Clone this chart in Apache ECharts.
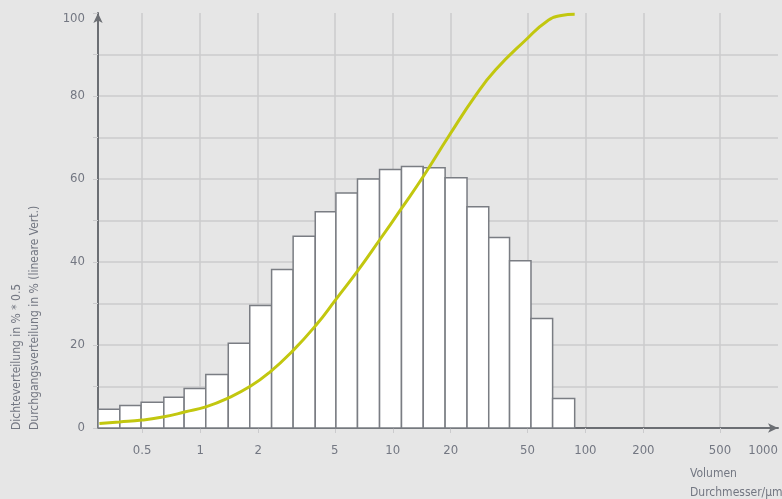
<!DOCTYPE html>
<html>
<head>
<meta charset="utf-8">
<script src="https://cdn.jsdelivr.net/npm/echarts@6/dist/echarts.min.js"></script>
<style>
html,body{margin:0;padding:0;background:#e6e6e6;}
#chart{width:782px;height:499px;}
</style>
</head>
<body>
<div id="chart"></div>
<script>
// ---- data ----
const binEdges = [0.295, 0.383, 0.494, 0.648, 0.826, 1.07, 1.40, 1.81, 2.35, 3.04, 3.96, 5.07, 6.56, 8.54, 11.1, 14.4, 18.7, 24.3, 31.5, 40.4, 52.2, 67.6, 88.0];
const densityValues = [4.5, 5.4, 6.2, 7.4, 9.5, 12.9, 20.4, 29.5, 38.2, 46.2, 52.1, 56.6, 60.0, 62.3, 63.0, 62.7, 60.3, 53.3, 45.9, 40.3, 26.4, 7.1];
const curveX = [0.30, 0.38, 0.5, 0.65, 0.84, 1.07, 1.41, 1.83, 2.28, 3.0, 4.0, 5.07, 6.56, 8.54, 11.1, 14.4, 19.7, 27, 34.2, 49, 62.7, 75, 88];
const curveY = [1.1, 1.45, 1.9, 2.7, 3.9, 5.1, 7.3, 10.1, 13.3, 18.4, 24.8, 31.0, 37.8, 45.3, 52.9, 60.6, 70.6, 80.2, 86.3, 93.5, 97.9, 99.4, 99.7];
const xTickValues = [0.5, 1, 2, 5, 10, 20, 50, 100, 200, 500];
const xLabelValues = [0.5, 1, 2, 5, 10, 20, 50, 100, 200, 500, 1000];
const yTickLabels = [0, 20, 40, 60, 80, 100];
const yAxisNames = ['Dichteverteilung in % * 0.5', 'Durchgangsverteilung in % (lineare Vert.)'];
const xAxisNames = ['Volumen', 'Durchmesser/µm'];

const FONT = "'Liberation Sans Narrow', 'DejaVu Sans Condensed', 'Noto Sans', sans-serif";
const GRID = '#cbcbcd';
const AXIS = '#6b6e73';
const TXT = '#737782';

const barData = densityValues.map((v, i) => [binEdges[i], binEdges[i + 1], v]);
const curveData = curveX.map((x, i) => [x, curveY[i]]);

const ySplitColors = [];
for (let v = 0; v <= 100; v += 10) ySplitColors.push(v === 100 ? 'rgba(0,0,0,0)' : GRID);

const chart = echarts.init(document.getElementById('chart'), null, {renderer: 'canvas'});
chart.setOption({
  backgroundColor: '#e6e6e6',
  animation: false,
  grid: {left: 98, right: 4, top: 13, bottom: 71, containLabel: false},
  xAxis: {
    type: 'log',
    logBase: 10,
    min: binEdges[0],
    max: 1000,
    axisLine: {show: true, onZero: false, lineStyle: {color: AXIS, width: 2}, symbol: ['none', 'arrow'], symbolSize: [7, 10]},
    axisTick: {show: true, customValues: xTickValues, length: 5, lineStyle: {color: GRID, width: 1}},
    axisLabel: {
      customValues: xLabelValues,
      color: TXT, fontFamily: FONT, fontSize: 13, margin: 16,
      alignMaxLabel: 'right',
      formatter: v => String(v)
    },
    splitLine: {show: true, lineStyle: {color: GRID, width: 1.5}},
    minorTick: {show: false},
    minorSplitLine: {show: false}
  },
  yAxis: {
    type: 'value',
    min: 0, max: 100, interval: 10,
    axisLine: {show: true, lineStyle: {color: AXIS, width: 2}, symbol: ['none', 'arrow'], symbolSize: [7, 10]},
    axisTick: {show: true, length: 5, lineStyle: {color: GRID, width: 1}},
    axisLabel: {
      color: TXT, fontFamily: FONT, fontSize: 13, margin: 13,
      formatter: v => (v === 100 ? '{top|100}' : (yTickLabels.indexOf(v) >= 0 ? String(v) : '')),
      rich: {top: {color: TXT, fontFamily: FONT, fontSize: 13, padding: [11, 0, 0, 0]}}
    },
    splitLine: {show: true, lineStyle: {color: ySplitColors, width: 1.5}}
  },
  graphic: [
    {type: 'text', x: 17, y: 430, rotation: Math.PI / 2,
      style: {text: yAxisNames[0], fill: TXT, font: '12px ' + FONT, textAlign: 'left', textVerticalAlign: 'middle'}},
    {type: 'text', x: 35, y: 430, rotation: Math.PI / 2,
      style: {text: yAxisNames[1], fill: TXT, font: '12px ' + FONT, textAlign: 'left', textVerticalAlign: 'middle'}},
    {type: 'text', x: 690, y: 474,
      style: {text: xAxisNames[0], fill: TXT, font: '12px ' + FONT, textAlign: 'left', textVerticalAlign: 'middle'}},
    {type: 'text', x: 690, y: 493,
      style: {text: xAxisNames[1], fill: TXT, font: '12px ' + FONT, textAlign: 'left', textVerticalAlign: 'middle'}}
  ],
  series: [
    {
      type: 'custom',
      name: 'Dichteverteilung',
      z: 3,
      data: barData,
      encode: {x: [0, 1], y: 2},
      renderItem: function (params, api) {
        const lo = api.value(0), hi = api.value(1), v = api.value(2);
        const p1 = api.coord([lo, v]);
        const p2 = api.coord([hi, 0]);
        return {
          type: 'rect',
          shape: {x: p1[0], y: p1[1], width: p2[0] - p1[0], height: p2[1] - p1[1]},
          style: {fill: '#ffffff', stroke: '#7a7d83', lineWidth: 1.5}
        };
      }
    },
    {
      type: 'line',
      name: 'Durchgangsverteilung',
      z: 5,
      data: curveData,
      smooth: 0.5,
      symbol: 'none',
      lineStyle: {color: '#c2c70f', width: 3}
    }
  ]
});
</script>
</body>
</html>
